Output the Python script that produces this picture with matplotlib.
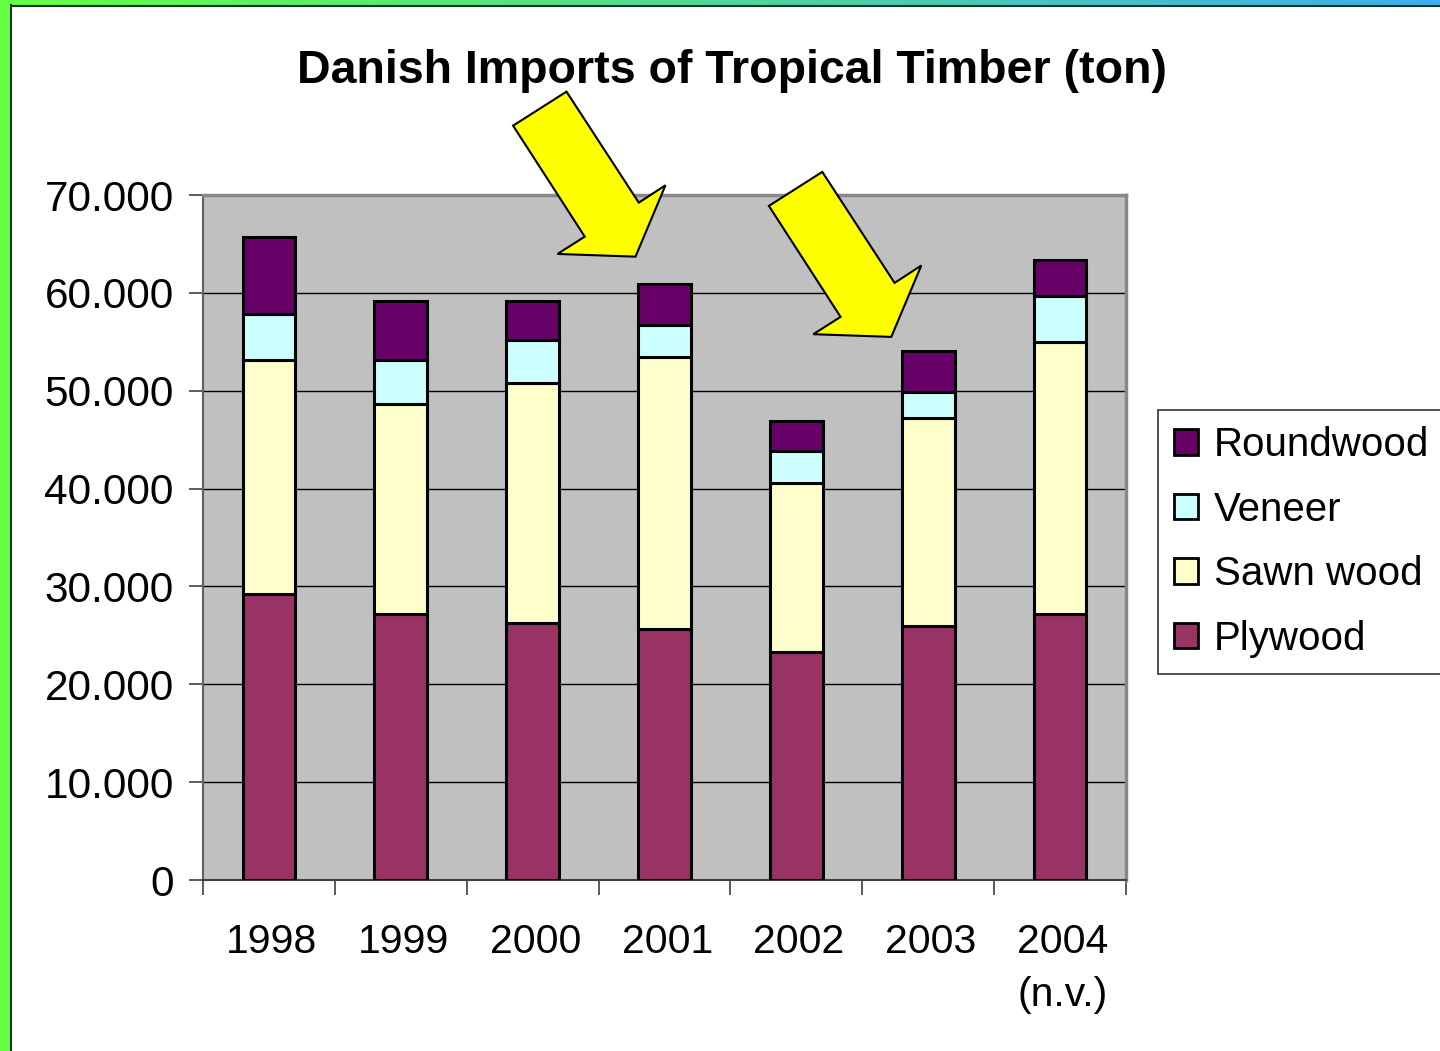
import numpy as np
import matplotlib
matplotlib.use("Agg")
import matplotlib.pyplot as plt
from matplotlib.patches import Polygon, Rectangle
from matplotlib.lines import Line2D
from matplotlib.transforms import ScaledTranslation
from matplotlib.ticker import FuncFormatter, FixedLocator

plt.rcParams['font.family'] = ['Liberation Sans', 'DejaVu Sans']

# data (ton)
years = ["1998", "1999", "2000", "2001", "2002", "2003", "2004\n(n.v.)"]
plywood = [29200, 27200, 26300, 25600, 23300, 26000, 27200]
sawn_wood = [23900, 21400, 24500, 27800, 17300, 21200, 27800]
veneer = [4700, 4500, 4400, 3300, 3200, 2700, 4700]
roundwood = [7900, 6100, 4000, 4200, 3100, 4200, 3700]

series = [("Plywood", plywood, "#993366"),
          ("Sawn wood", sawn_wood, "#FFFFCC"),
          ("Veneer", veneer, "#CCFFFF"),
          ("Roundwood", roundwood, "#660066")]

# arrows point at 2001 and 2003 (tip position in data coords)
arrow_tips = [(2.78, 63700), (4.72, 55500)]

W, H = 1440, 1051
fig = plt.figure(figsize=(W / 100, H / 100), dpi=100)
fig.patch.set_facecolor("white")

ax = fig.add_axes([203 / W, 1 - 880 / H, (1126 - 203) / W, (880 - 195) / H])
ax.set_facecolor("#C0C0C0")

x = np.arange(len(years))
bottom = np.zeros(len(years))
handles = []
for name, vals, col in series:
    b = ax.bar(x, vals, width=0.4, bottom=bottom, color=col,
               edgecolor="black", linewidth=2.2, label=name, zorder=3)
    handles.append(b)
    bottom = bottom + np.array(vals)

ax.set_xlim(-0.5, len(years) - 0.5)
ax.set_ylim(0, 70000)
ax.set_yticks(np.arange(0, 70001, 10000))
ax.yaxis.set_major_formatter(FuncFormatter(lambda v, p: f"{int(v):,}".replace(",", ".")))
ax.grid(axis="y", color="black", linewidth=1.0, zorder=1)
ax.set_axisbelow(True)

# ticks between categories, labels at centers
ax.xaxis.set_major_locator(FixedLocator(np.arange(-0.5, len(years), 1.0)))
ax.xaxis.set_minor_locator(FixedLocator(x + 0.02))
ax.set_xticklabels([], minor=False)
ax.set_xticklabels(years, minor=True, fontsize=29.5, linespacing=1.5)
ax.tick_params(axis="x", which="major", length=11, width=1.2, color="#404040", direction="out")
ax.tick_params(axis="x", which="minor", length=0, pad=31)
ax.tick_params(axis="y", length=10, width=1.2, color="#404040", labelsize=30.5, pad=11)

ax.spines["left"].set_color("#606060")
ax.spines["left"].set_linewidth(1.5)
ax.spines["bottom"].set_color("#404040")
ax.spines["bottom"].set_linewidth(1.5)
ax.spines["top"].set_color("#888888")
ax.spines["top"].set_linewidth(2.5)
ax.spines["right"].set_color("#888888")
ax.spines["right"].set_linewidth(2.5)

fig.text(732 / W, 1 - 83 / H, "Danish Imports of Tropical Timber (ton)",
         ha="center", va="baseline", fontsize=33.5, fontweight="bold")

leg = fig.legend(handles[::-1], [s[0] for s in series][::-1],
                 loc="upper left", bbox_to_anchor=(1158 / W, 1 - 410 / H),
                 fontsize=29, frameon=True, fancybox=False, edgecolor="black",
                 handlelength=0.6, handleheight=0.6, handletextpad=0.38,
                 labelspacing=0.66, borderpad=0.4, borderaxespad=0)
leg.get_frame().set_linewidth(1.2)
for h in leg.legend_handles:
    h.set_linewidth(2.0)

# yellow arrows, shape in pixels relative to the tip (y down)
shape = [(-69, -165), (-122.4, -131), (-50.7, -20), (-78, -2.7),
         (0, 0), (30, -71.4), (3.3, -54)]
verts = [(dx / 100, -dy / 100) for dx, dy in shape]
for tx, ty in arrow_tips:
    tr = fig.dpi_scale_trans + ScaledTranslation(tx, ty, ax.transData)
    ax.add_patch(Polygon(verts, closed=True, facecolor="#FFFF00", edgecolor="black",
                         linewidth=1.5, transform=tr, clip_on=False, zorder=5))

# slide border: gradient strip on top, green strip left
top = fig.add_axes([0, 1 - 5 / H, 1, 5 / H])
grad = np.linspace(0, 1, 256)
c1 = np.array([0x66, 0xFF, 0x44]) / 255
c2 = np.array([0x3D, 0xAE, 0xEE]) / 255
img = c1[None, :] * (1 - grad[:, None]) + c2[None, :] * grad[:, None]
top.imshow(img[None, :, :], aspect="auto", extent=[0, 1, 0, 1])
top.set_axis_off()
fig.patches.append(Rectangle((0, 0), 10 / W, 1, transform=fig.transFigure,
                             facecolor="#66FF44", edgecolor="none", zorder=10))
fig.lines.append(Line2D([11 / W, 11 / W], [0, 1 - 5 / H], transform=fig.transFigure,
                        color="#1E2E24", linewidth=1.5))
fig.lines.append(Line2D([10 / W, 1], [1 - 6 / H, 1 - 6 / H], transform=fig.transFigure,
                        color="#1E2E24", linewidth=1.5))

fig.savefig("out.png", dpi=100)
